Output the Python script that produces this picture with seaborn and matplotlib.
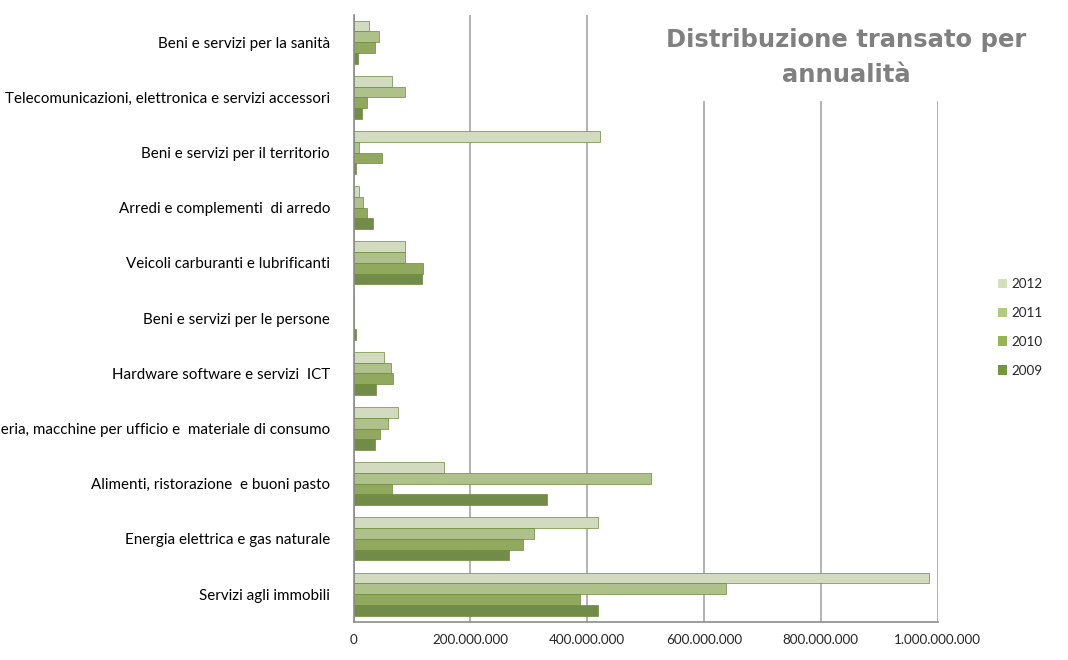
import matplotlib.pyplot as plt
import matplotlib.ticker as mticker
from matplotlib.patches import Patch
import numpy as np
import pandas as pd
import seaborn as sns

# categorie (dall'alto verso il basso)
categorie = [
    'Beni e servizi per la sanità',
    'Telecomunicazioni, elettronica e servizi accessori',
    'Beni e servizi per il territorio',
    'Arredi e complementi  di arredo',
    'Veicoli carburanti e lubrificanti',
    'Beni e servizi per le persone',
    'Hardware software e servizi  ICT',
    'Cancelleria, macchine per ufficio e  materiale di consumo',
    'Alimenti, ristorazione  e buoni pasto',
    'Energia elettrica e gas naturale',
    'Servizi agli immobili',
]
anni = ['2012', '2011', '2010', '2009']

# transato in milioni di euro
v2012 = [27, 66, 422, 9, 88, 0, 52, 76, 155, 418, 985]
v2011 = [44, 88, 10, 17, 88, 0, 65, 59, 510, 309, 637]
v2010 = [36, 23, 48, 23, 119, 0, 67, 45, 66, 290, 387]
v2009 = [8, 14, 5, 33, 117, 4, 38, 37, 332, 267, 419]

colori = ['#d3e0bb', '#b1ca82', '#94b552', '#76963e']

valori = {'2012': v2012, '2011': v2011, '2010': v2010, '2009': v2009}
df = pd.DataFrame({
    'categoria': categorie * len(anni),
    'anno': np.repeat(anni, len(categorie)),
    'valore': np.concatenate([valori[a] for a in anni]) * 1e6,
})

sns.set_style('white')
plt.rcParams['font.family'] = ['Lato', 'DejaVu Sans']

fig = plt.figure(figsize=(10.68, 6.6), dpi=100)
ax = fig.add_axes([0.331, 0.058, 0.547, 0.92])

sns.barplot(data=df, x='valore', y='categoria', hue='anno', hue_order=anni,
            order=categorie, palette=colori, orient='h', width=0.78,
            edgecolor='#6f8a3a', linewidth=0.5, legend=False, ax=ax)

ax.set_xlim(0, 1.0e9)
ax.set_ylim(len(categorie) - 0.5, -0.5)
ax.set_xticks(np.arange(0, 1.0e9 + 1, 2e8))
ax.xaxis.set_major_formatter(mticker.FuncFormatter(
    lambda x, p: f'{int(round(x)):,}'.replace(',', '.')))
ax.set_yticks(np.arange(-0.5, len(categorie), 1), minor=True)

# the long label is cut at the left edge, as in the original slide
ax.tick_params(axis='y', which='major', length=0, pad=17, labelsize=10.9,
               colors='black')
ax.tick_params(axis='y', which='minor', length=5, color='#8c8c8c', width=1)
ax.tick_params(axis='x', length=5, color='#8c8c8c', labelsize=9.7, pad=4)

ax.grid(axis='x', color='#a6a6a6', linewidth=1.2)
ax.set_axisbelow(True)
for s in ['top', 'right']:
    ax.spines[s].set_visible(False)
for s in ['left', 'bottom']:
    ax.spines[s].set_color('#8c8c8c')
    ax.spines[s].set_linewidth(1.2)
ax.set_xlabel('')
ax.set_ylabel('')

fig.text(0.792, 0.957, 'Distribuzione transato per\nannualità',
         ha='center', va='top', fontsize=17.5, fontweight='bold',
         color='#808080', family=['DejaVu Sans'], linespacing=1.55,
         bbox=dict(facecolor='white', edgecolor='none', pad=10))

handles = [Patch(facecolor=c, edgecolor='none', label=a)
           for a, c in zip(anni, colori)]
fig.legend(handles=handles, loc='upper left', bbox_to_anchor=(0.923, 0.597),
           frameon=False, fontsize=9.7, handlelength=0.7, handleheight=0.7,
           handletextpad=0.3, labelspacing=1.25)

fig.savefig('out.png', dpi=100)
